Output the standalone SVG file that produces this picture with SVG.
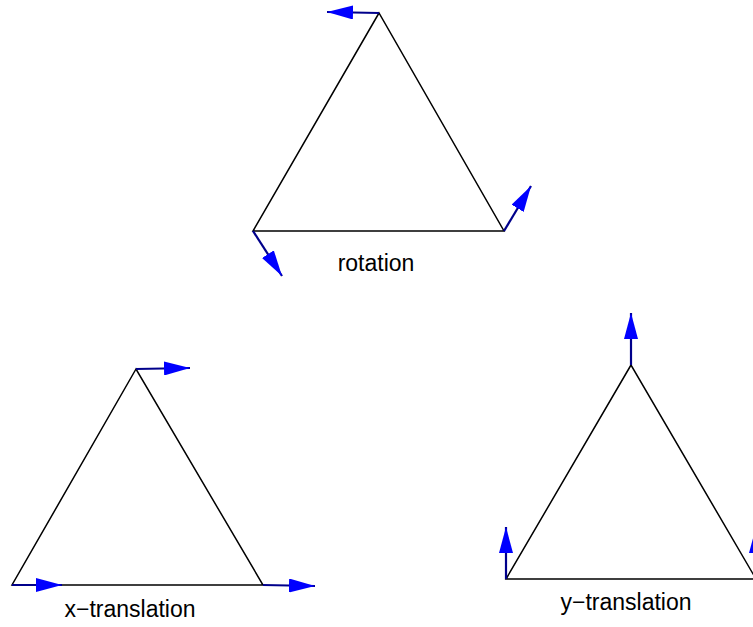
<svg xmlns="http://www.w3.org/2000/svg" width="753" height="627" viewBox="0 0 753 627">
<style>
.tri{fill:none;stroke:#000;stroke-width:1.5;stroke-linejoin:miter}
.arr{stroke:#00008b;stroke-width:2.2;fill:none;marker-end:url(#ah)}
.lbl{font-family:"Liberation Sans",Arial,sans-serif;font-size:23px;fill:#000;text-anchor:middle}
</style>
<defs>
<marker id="ah" viewBox="0 0 26 14" refX="26" refY="7" markerWidth="26" markerHeight="14" markerUnits="userSpaceOnUse" orient="auto">
<path d="M0,0 L26,7 L0,14 Z" fill="#0000ff"/>
</marker>
</defs>
<rect width="753" height="627" fill="#fff"/>
<g id="rotation">
<polygon class="tri" points="379,13 253,231 504,231"/>
<text class="lbl" x="376" y="271">rotation</text>
</g>
<g id="x-translation">
<polygon class="tri" points="136,369 12,585 263,585"/>
<text class="lbl" x="130" y="617">x−translation</text>
</g>
<g id="y-translation">
<polygon class="tri" points="631,365 506,579 756,579"/>
<text class="lbl" x="626" y="610">y−translation</text>
</g>
<g id="connectors">
<line class="arr" x1="379" y1="13" x2="327" y2="12"/>
<line class="arr" x1="253" y1="231" x2="282" y2="276"/>
<line class="arr" x1="504" y1="231" x2="531" y2="186"/>
<line class="arr" x1="136" y1="369" x2="190" y2="368"/>
<line class="arr" x1="12" y1="585" x2="62" y2="585"/>
<line class="arr" x1="263" y1="585" x2="315" y2="586"/>
<line class="arr" x1="631" y1="365" x2="631" y2="313"/>
<line class="arr" x1="506" y1="579" x2="506" y2="527"/>
<line class="arr" x1="756" y1="579" x2="756" y2="527"/>
</g>
</svg>
